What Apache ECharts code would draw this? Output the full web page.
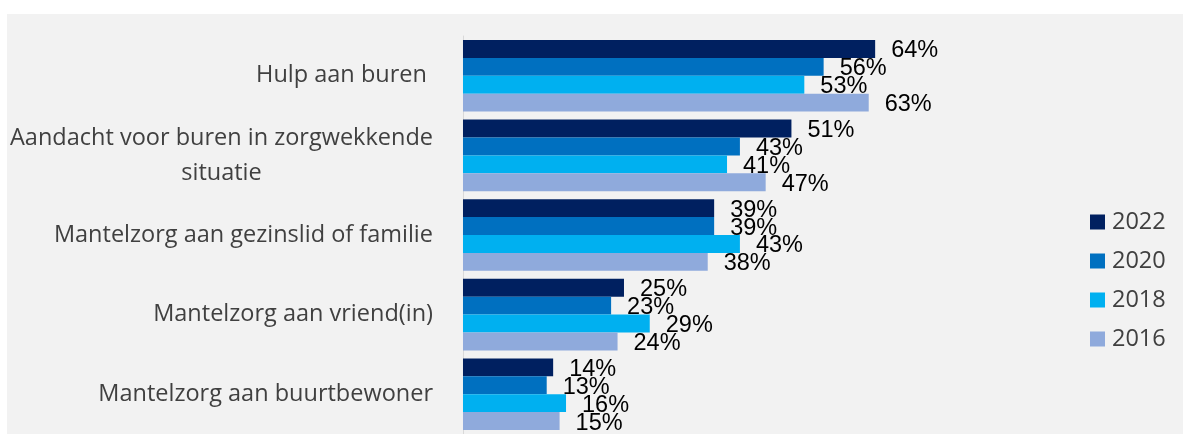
<!DOCTYPE html>
<html>
<head>
<meta charset="utf-8">
<script src="https://cdn.jsdelivr.net/npm/echarts@6/dist/echarts.min.js"></script>
<style>
  html, body { margin: 0; padding: 0; background: #ffffff; }
  #chart { position: absolute; left: 7px; top: 14px; width: 1176px; height: 420px; }
</style>
</head>
<body>
<div id="chart"></div>
<script>
var categories = [
  'Hulp aan buren ',
  'Aandacht voor buren in zorgwekkende\nsituatie',
  'Mantelzorg aan gezinslid of familie',
  'Mantelzorg aan vriend(in)',
  'Mantelzorg aan buurtbewoner'
];
var years = ['2022', '2020', '2018', '2016'];
var values2022 = [64, 51, 39, 25, 14];
var values2020 = [56, 43, 39, 23, 13];
var values2018 = [53, 41, 43, 29, 16];
var values2016 = [63, 47, 38, 24, 15];
var colors = ['#002060', '#0070C0', '#00B0F0', '#8FAADC'];

var chartDom = document.getElementById('chart');
var chart = echarts.init(chartDom);
var allValues = [values2022, values2020, values2018, values2016];
var series = [];

for (var i = 0; i < years.length; i++) {
  series.push({
    name: years[i],
    type: 'bar',
    barGap: '0%',
    barCategoryGap: '10%',
    itemStyle: { color: colors[i] },
    label: {
      show: true,
      position: 'right',
      distance: 16,
      formatter: '{c}%',
      color: '#000000',
      fontFamily: 'Liberation Sans',
      fontSize: 23.5,
      offset: [0, 2]
    },
    data: allValues[i]
  });
}

var option = {
  backgroundColor: '#f2f2f2',
  animation: false,
  legend: {
    orient: 'vertical',
    left: 1078,
    top: 191,
    itemWidth: 15,
    itemHeight: 15,
    itemGap: 15,
    icon: 'rect',
    textStyle: {
      color: '#404040',
      fontFamily: 'Open Sans',
      fontSize: 23.5,
      lineHeight: 23,
      padding: [0, 0, 0, 2]
    },
    data: years
  },
  grid: {
    left: 455,
    top: 22,
    width: 645,
    height: 402
  },
  xAxis: {
    type: 'value',
    min: 0,
    max: 100,
    show: false
  },
  yAxis: {
    type: 'category',
    inverse: true,
    data: categories,
    axisLine: { show: true, lineStyle: { color: '#d9d9d9', width: 1 } },
    axisTick: { show: false },
    axisLabel: {
      margin: 30,
      formatter: function (value) {
        return value.split('\n').map(function (l) { return '{c|' + l + '}'; }).join('\n');
      },
      rich: {
        c: {
          align: 'center',
          color: '#404040',
          fontFamily: 'Open Sans',
          fontSize: 23.5,
          lineHeight: 35
        }
      }
    }
  },
  series: series
};

chart.setOption(option);
</script>
</body>
</html>
